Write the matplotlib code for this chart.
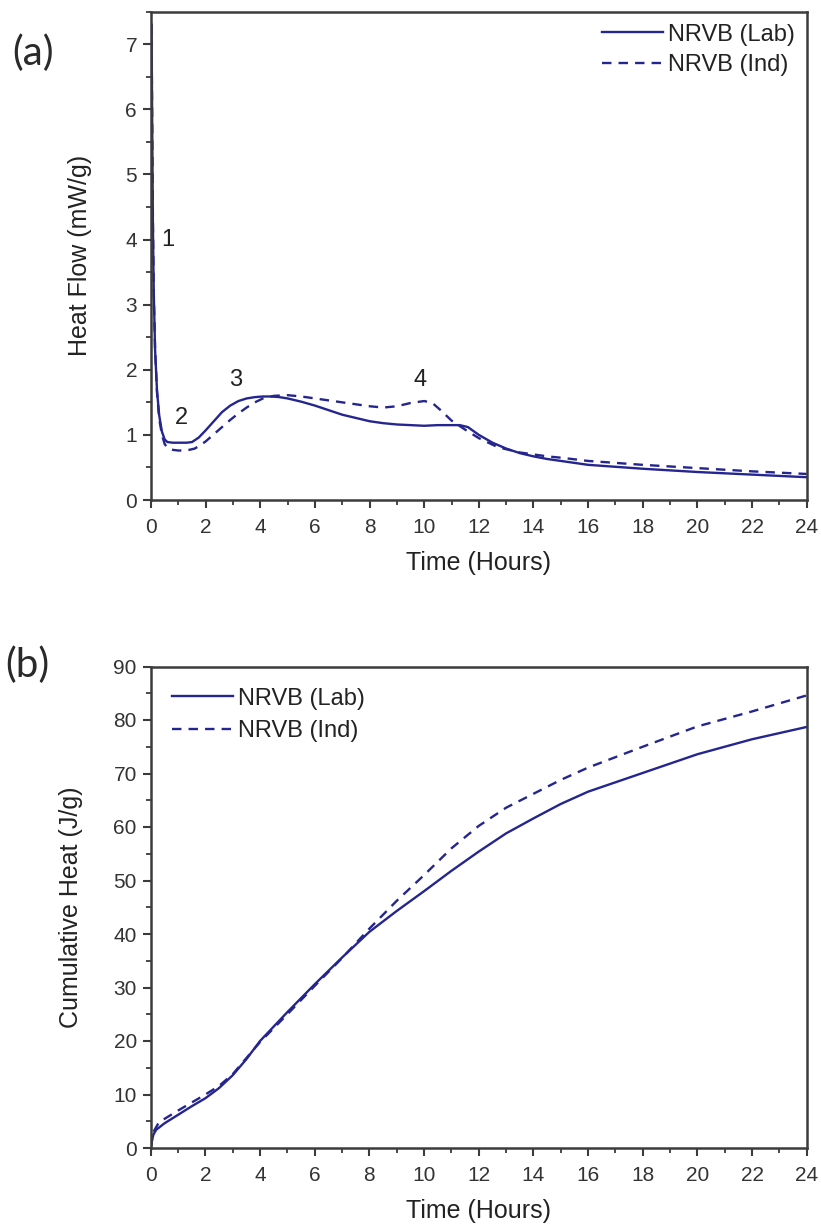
import matplotlib
matplotlib.use("Agg")
import matplotlib.pyplot as plt
from matplotlib.ticker import MultipleLocator

# ---------------- data ----------------
# Panel (a): heat flow (mW/g) vs time (hours)
t_lab_a = [0.02, 0.04, 0.07, 0.1, 0.15, 0.22, 0.3, 0.4, 0.5, 0.6, 0.8, 1.0, 1.3, 1.5, 1.75,
           2.0, 2.3, 2.6, 2.9, 3.2, 3.5, 3.8, 4.1, 4.4, 4.7, 5.0, 5.5, 6.0, 6.5, 7.0, 7.5,
           8.0, 8.5, 9.0, 9.5, 10.0, 10.5, 11.0, 11.3, 11.6, 12.0, 12.5, 13.0, 13.5, 14.0,
           14.5, 15.0, 16.0, 17.0, 18.0, 19.0, 20.0, 21.0, 22.0, 23.0, 24.0]
hf_lab = [7.3, 6.0, 4.2, 3.2, 2.3, 1.68, 1.3, 1.05, 0.93, 0.89, 0.88, 0.88, 0.88, 0.89, 0.96,
          1.07, 1.21, 1.35, 1.45, 1.52, 1.56, 1.58, 1.59, 1.59, 1.58, 1.56, 1.51, 1.45, 1.38, 1.31, 1.26,
          1.21, 1.18, 1.16, 1.15, 1.14, 1.15, 1.15, 1.15, 1.12, 1.0, 0.88, 0.79, 0.72, 0.67,
          0.63, 0.6, 0.54, 0.51, 0.48, 0.455, 0.43, 0.41, 0.39, 0.37, 0.35]

t_ind_a = [0.02, 0.04, 0.07, 0.1, 0.15, 0.22, 0.3, 0.4, 0.5, 0.6, 0.8, 1.0, 1.2, 1.4, 1.6, 1.8,
           2.0, 2.3, 2.6, 2.9, 3.2, 3.5, 3.8, 4.1, 4.5, 5.0, 5.5, 6.0, 6.5, 7.0, 7.5, 8.0,
           8.5, 9.0, 9.5, 10.0, 10.3, 10.6, 11.0, 11.5, 12.0, 12.7, 13.5, 14.5, 15.0, 16.0,
           17.0, 18.0, 19.0, 20.0, 21.0, 22.0, 23.0, 24.0]
hf_ind = [7.3, 6.0, 4.3, 3.2, 2.3, 1.65, 1.25, 1.0, 0.86, 0.8, 0.77, 0.76, 0.76, 0.77, 0.79, 0.84,
          0.9, 1.01, 1.12, 1.23, 1.33, 1.42, 1.5, 1.56, 1.6, 1.61, 1.59, 1.56, 1.53, 1.5, 1.47, 1.44,
          1.42, 1.44, 1.49, 1.52, 1.49, 1.38, 1.22, 1.08, 0.95, 0.81, 0.73, 0.67, 0.65, 0.6,
          0.57, 0.54, 0.515, 0.49, 0.465, 0.44, 0.42, 0.40]

# Panel (b): cumulative heat (J/g) vs time (hours)
t_lab_b = [0, 0.05, 0.1, 0.2, 0.5, 1.0, 1.5, 2.0, 2.5, 3.0, 3.5, 4.0, 5.0, 6.0, 7.0, 8.0,
           9.0, 10.0, 11.0, 12.0, 13.0, 14.0, 15.0, 16.0, 18.0, 20.0, 22.0, 24.0]
ch_lab = [0, 1.5, 2.5, 3.4, 4.6, 6.2, 7.8, 9.3, 11.2, 13.6, 16.6, 20.0, 25.4, 30.6, 35.6, 40.4,
          44.3, 48.0, 51.8, 55.4, 58.8, 61.6, 64.3, 66.6, 70.1, 73.6, 76.4, 78.7]

t_ind_b = [0, 0.1, 0.3, 1.0, 2.0, 2.5, 3.0, 4.0, 5.0, 6.0, 7.0, 8.0, 9.0, 10.0, 11.0, 12.0,
           13.0, 14.0, 15.0, 16.0, 18.0, 20.0, 22.0, 24.0]
ch_ind = [0, 3.0, 4.8, 7.0, 10.0, 11.6, 13.8, 19.8, 25.0, 30.3, 35.5, 41.0, 46.2, 51.0, 56.0, 60.2,
          63.6, 66.2, 68.8, 71.1, 75.0, 78.8, 81.6, 84.6]

series_labels = ["NRVB (Lab)", "NRVB (Ind)"]
peak_labels = ["1", "2", "3", "4"]
peak_x = [0.6, 1.1, 3.1, 9.85]
peak_y = [4.0, 1.26, 1.84, 1.84]

# ---------------- style ----------------
plt.rcParams['font.family'] = ['Liberation Sans', 'DejaVu Sans']
LINE = '#25258f'
SPINE = '#3c3c3c'
TXT = '#222222'

fig = plt.figure(figsize=(8.21, 12.27), dpi=100)
W, H = 821, 1227


def axes_px(x0, y0, x1, y1):
    return fig.add_axes([x0 / W, 1 - y1 / H, (x1 - x0) / W, (y1 - y0) / H])


def style(ax, xmaj, xmin, ymaj, ymin):
    for s in ax.spines.values():
        s.set_linewidth(1.8)
        s.set_color(SPINE)
    ax.xaxis.set_major_locator(MultipleLocator(xmaj))
    ax.xaxis.set_minor_locator(MultipleLocator(xmin))
    ax.yaxis.set_major_locator(MultipleLocator(ymaj))
    ax.yaxis.set_minor_locator(MultipleLocator(ymin))
    ax.tick_params(which='major', direction='out', length=6, width=1.5, color=SPINE,
                   labelsize=15, labelcolor='#333333', pad=4)
    ax.tick_params(axis='x', which='major', pad=7)
    ax.tick_params(which='minor', direction='out', length=3.5, width=1.3, color=SPINE)
    ax.tick_params(top=False, right=False, which='both')


# ---- panel (a) ----
ax1 = axes_px(151, 11.7, 806.7, 500)
ax1.plot(t_lab_a, hf_lab, color=LINE, lw=1.7, ls='-', label=series_labels[0])
ax1.plot(t_ind_a, hf_ind, color=LINE, lw=1.7, ls=(0, (4, 3)), label=series_labels[1])
ax1.set_xlim(0, 24)
ax1.set_ylim(0, 7.5)
style(ax1, 2, 1, 1, 0.5)
ax1.set_xlabel("Time (Hours)", fontsize=18, color=TXT, labelpad=10)
ax1.set_ylabel("Heat Flow (mW/g)", fontsize=18, color=TXT, labelpad=24)
for lab, x, y in zip(peak_labels, peak_x, peak_y):
    ax1.text(x, y, lab, fontsize=17, color=TXT, ha='center', va='center')
leg1 = ax1.legend(loc='upper right', bbox_to_anchor=(1.0, 1.0), frameon=False, fontsize=17,
                  handlelength=2.6, handletextpad=0.2, labelspacing=0.38, borderaxespad=0.3,
                  borderpad=0.2)
for t in leg1.get_texts():
    t.set_color(TXT)

# ---- panel (b) ----
ax2 = axes_px(150.7, 666.5, 806.7, 1148)
ax2.plot(t_lab_b, ch_lab, color=LINE, lw=1.7, ls='-', label=series_labels[0])
ax2.plot(t_ind_b, ch_ind, color=LINE, lw=1.7, ls=(0, (4, 3)), label=series_labels[1])
ax2.set_xlim(0, 24)
ax2.set_ylim(0, 90)
style(ax2, 2, 1, 10, 5)
ax2.set_xlabel("Time (Hours)", fontsize=18, color=TXT, labelpad=10)
ax2.set_ylabel("Cumulative Heat (J/g)", fontsize=18, color=TXT, labelpad=22)
leg2 = ax2.legend(loc='upper left', bbox_to_anchor=(0.0, 1.0), frameon=False, fontsize=17,
                  handlelength=2.6, handletextpad=0.2, labelspacing=0.45, borderaxespad=0.6,
                  borderpad=0.3)
for t in leg2.get_texts():
    t.set_color(TXT)

fig.text(33 / W, 1 - 53 / H, "(a)", fontsize=29, family=['Lato', 'DejaVu Sans'],
         color='#2a2a2a', ha='center', va='center')
fig.text(27 / W, 1 - 665 / H, "(b)", fontsize=29, family=['Lato', 'DejaVu Sans'],
         color='#2a2a2a', ha='center', va='center')

fig.savefig("out.png", dpi=100)
